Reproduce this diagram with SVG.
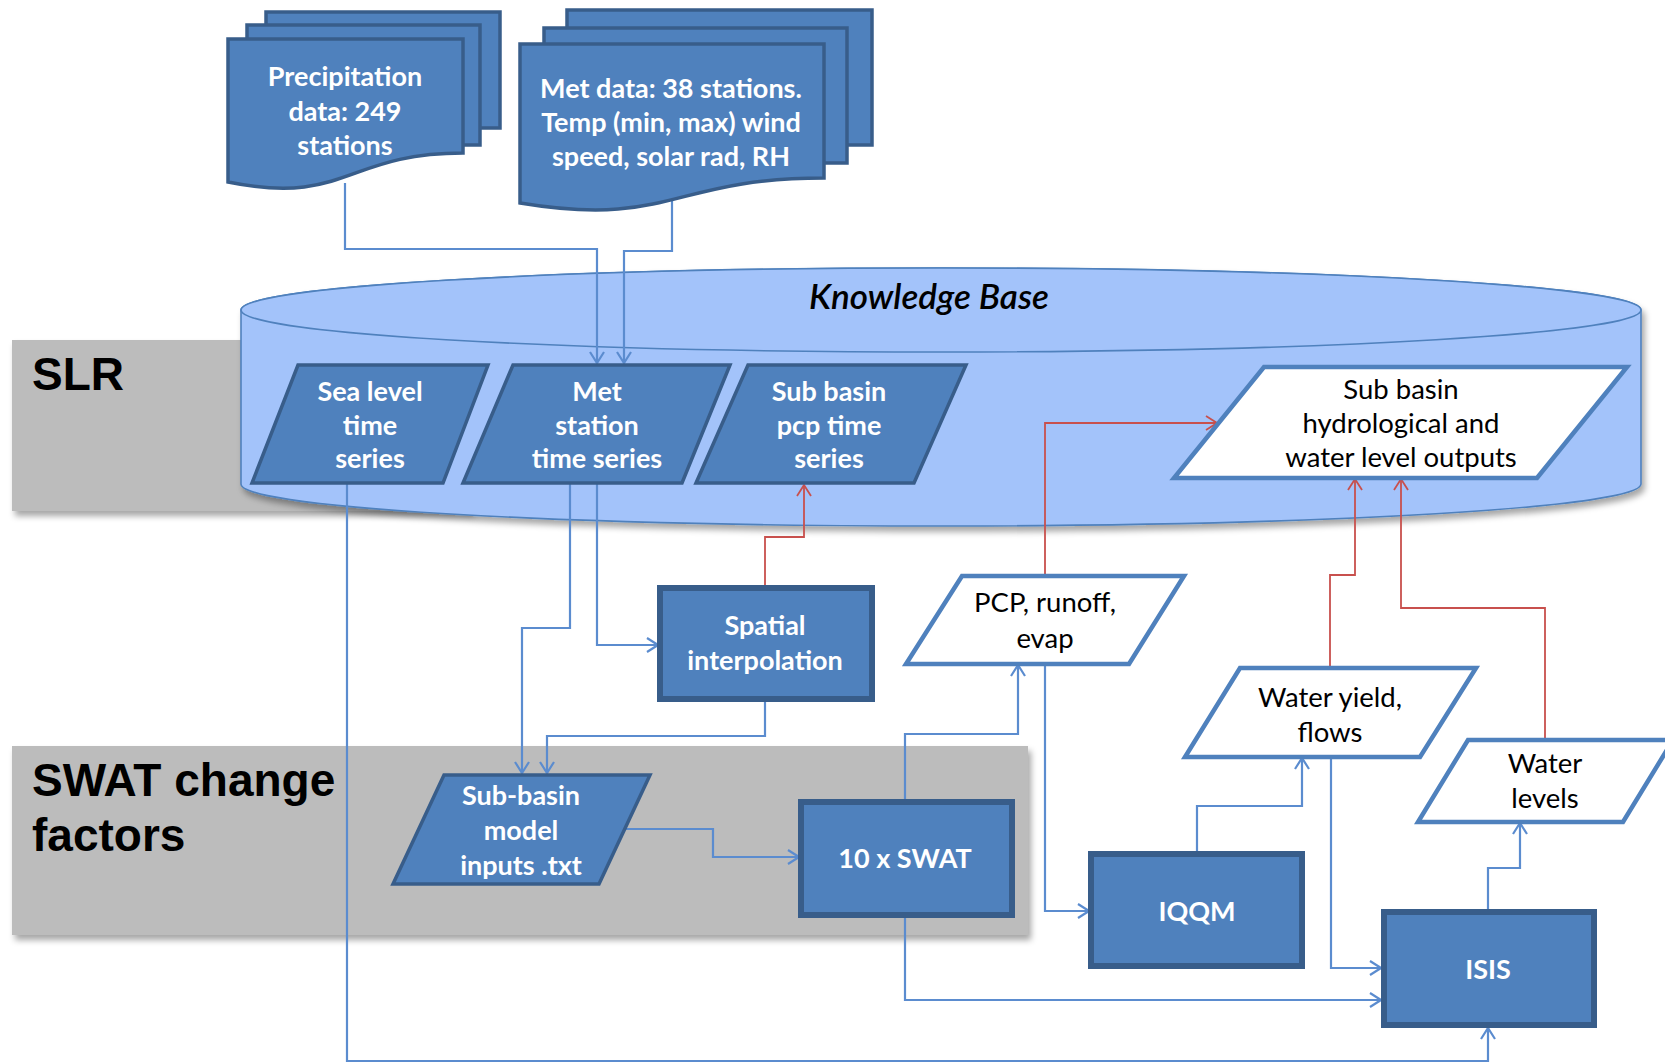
<svg xmlns="http://www.w3.org/2000/svg" width="1665" height="1063" viewBox="0 0 1665 1063">
<style>
.band{fill:#bcbcbc}
.bandtxt{font-family:"Liberation Sans",Arial,sans-serif;font-weight:bold;font-size:46px;fill:#000}
.dk{fill:#4f81bd;stroke:#385d8a;stroke-width:3.5;stroke-linejoin:miter}
.box{fill:#4f81bd;stroke:#385d8a;stroke-width:6}
.wp{fill:#fff;stroke:#4f81bd;stroke-width:4.5}
.wt{font-family:Lato,"Open Sans",sans-serif;font-weight:bold;font-size:27px;fill:#fff;text-anchor:middle}
.bt{font-family:Lato,"Open Sans",sans-serif;font-size:27.5px;fill:#000;text-anchor:middle}
.kbt{font-family:Lato,"Open Sans",sans-serif;font-style:italic;font-weight:600;font-size:35px;fill:#000;text-anchor:middle}
.cb{fill:none;stroke:#5b8ccf;stroke-width:2.2;marker-end:url(#ab)}
.cr{fill:none;stroke:#c8504d;stroke-width:1.8;marker-end:url(#ar)}
.cyl{fill:#a3c3fa;stroke:#4f81bd;stroke-width:1.6}
</style>
<defs>
<marker id="ab" viewBox="0 0 13 16" refX="12" refY="8" markerWidth="13" markerHeight="16" markerUnits="userSpaceOnUse" orient="auto">
<path d="M1,1 L12,8 L1,15" fill="none" stroke="#5b8ccf" stroke-width="2.2"/>
</marker>
<marker id="ar" viewBox="0 0 13 16" refX="12" refY="8" markerWidth="13" markerHeight="16" markerUnits="userSpaceOnUse" orient="auto">
<path d="M1,1 L12,8 L1,15" fill="none" stroke="#c8504d" stroke-width="1.8"/>
</marker>
<filter id="sh" x="-5%" y="-5%" width="110%" height="120%">
<feDropShadow dx="3" dy="5" stdDeviation="3" flood-color="#000" flood-opacity="0.35"/>
</filter>
</defs>
<rect width="1665" height="1063" fill="#fff"/>

<g id="band-slr">
<rect class="band" x="12" y="340" width="460" height="171" filter="url(#sh)"/>
<text class="bandtxt" x="32" y="390">SLR</text>
</g>
<g id="band-swat">
<rect class="band" x="12" y="746" width="1016" height="189" filter="url(#sh)"/>
<text class="bandtxt" x="32" y="796">SWAT change</text>
<text class="bandtxt" x="32" y="851">factors</text>
</g>

<g id="kb">
<path class="cyl" d="M241,310 A700,42 0 0 1 1641,310 V484 A700,42 0 0 1 241,484 Z" filter="url(#sh)"/>
<ellipse class="cyl" cx="941" cy="310" rx="700" ry="42"/>
<text class="kbt" x="929" y="309">Knowledge Base</text>
</g>

<g id="connectors">
<path class="cb" d="M345,183 V249 H597 V363"/>
<path class="cb" d="M672,200 V251 H624 V363"/>
<path class="cb" d="M347,483 V1061 H1488 V1028"/>
<path class="cb" d="M570,483 V628 H522 V773"/>
<path class="cb" d="M597,483 V645 H658"/>
<path class="cb" d="M765,700 V736 H547 V773"/>
<path class="cb" d="M620,829 H713 V857 H799"/>
<path class="cb" d="M905,801 V734 H1018 V665"/>
<path class="cb" d="M905,916 V1000 H1381"/>
<path class="cb" d="M1045,664 V911 H1089"/>
<path class="cb" d="M1197,853 V806 H1302 V758"/>
<path class="cb" d="M1331,757 V968 H1381"/>
<path class="cb" d="M1488,911 V868 H1520 V823"/>
<path class="cr" d="M765,587 V537 H804 V485"/>
<path class="cr" d="M1045,576 V423 H1217"/>
<path class="cr" d="M1330,668 V575 H1355 V479"/>
<path class="cr" d="M1545,740 V608 H1401 V479"/>
</g>

<g id="precip">
<rect class="dk" x="266" y="12" width="234" height="116"/>
<rect class="dk" x="247" y="25" width="233" height="120"/>
<path class="dk" d="M228,39 H463 V153 C346,153 346,206 228,182 Z"/>
<text class="wt" x="345" y="86">Precipitation</text>
<text class="wt" x="345" y="121">data: 249</text>
<text class="wt" x="345" y="155">stations</text>
</g>

<g id="metdata">
<rect class="dk" x="567" y="10" width="305" height="135"/>
<rect class="dk" x="544" y="28" width="303" height="135"/>
<path class="dk" d="M520,44 H824 V178 C671,178 671,228 520,203 Z"/>
<text class="wt" x="671" y="98">Met data: 38 stations.</text>
<text class="wt" x="671" y="132">Temp (min, max) wind</text>
<text class="wt" x="671" y="166">speed, solar rad, RH</text>
</g>

<g id="sealevel">
<polygon class="dk" points="298,365 488,365 443,483 252,483"/>
<text class="wt" x="370" y="401">Sea level</text>
<text class="wt" x="370" y="435">time</text>
<text class="wt" x="370" y="468">series</text>
</g>

<g id="metstation">
<polygon class="dk" points="513,365 730,365 682,483 463,483"/>
<text class="wt" x="597" y="401">Met</text>
<text class="wt" x="597" y="435">station</text>
<text class="wt" x="597" y="468">time series</text>
</g>

<g id="subpcp">
<polygon class="dk" points="748,365 966,365 914,483 696,483"/>
<text class="wt" x="829" y="401">Sub basin</text>
<text class="wt" x="829" y="435">pcp time</text>
<text class="wt" x="829" y="468">series</text>
</g>

<g id="hydro">
<polygon class="wp" points="1264,367 1627,367 1537,478 1174,478"/>
<text class="bt" x="1401" y="399">Sub basin</text>
<text class="bt" x="1401" y="433">hydrological and</text>
<text class="bt" x="1401" y="467">water level outputs</text>
</g>

<g id="spatial">
<rect class="box" x="660" y="588" width="212" height="111"/>
<text class="wt" x="765" y="635">Spatial</text>
<text class="wt" x="765" y="670">interpolation</text>
</g>

<g id="pcp">
<polygon class="wp" points="962,576 1184,576 1129,664 906,664"/>
<text class="bt" x="1045" y="612">PCP, runoff,</text>
<text class="bt" x="1045" y="648">evap</text>
</g>

<g id="wateryield">
<polygon class="wp" points="1240,668 1476,668 1420,757 1185,757"/>
<text class="bt" x="1330" y="707">Water yield,</text>
<text class="bt" x="1330" y="742">flows</text>
</g>

<g id="waterlevels">
<polygon class="wp" points="1468,740 1673,740 1623,822 1418,822"/>
<text class="bt" x="1545" y="773">Water</text>
<text class="bt" x="1545" y="808">levels</text>
</g>

<g id="submodel">
<polygon class="dk" points="444,775 650,775 599,884 393,884"/>
<text class="wt" x="521" y="805">Sub-basin</text>
<text class="wt" x="521" y="840">model</text>
<text class="wt" x="521" y="875">inputs .txt</text>
</g>

<g id="swat">
<rect class="box" x="801" y="802" width="211" height="113"/>
<text class="wt" x="905" y="868">10 x SWAT</text>
</g>

<g id="iqqm">
<rect class="box" x="1091" y="854" width="211" height="112"/>
<text class="wt" x="1197" y="921">IQQM</text>
</g>

<g id="isis">
<rect class="box" x="1384" y="912" width="210" height="113"/>
<text class="wt" x="1488" y="979">ISIS</text>
</g>
</svg>
